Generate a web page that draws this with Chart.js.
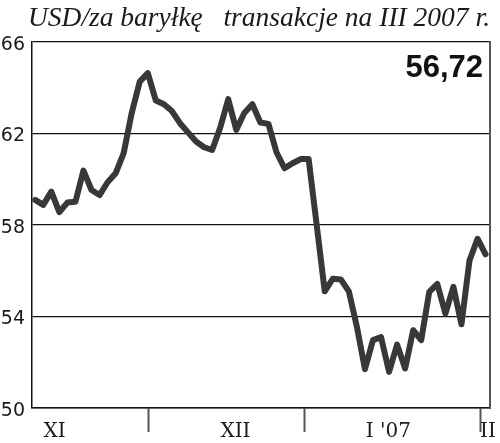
<!DOCTYPE html>
<html>
<head>
<meta charset="utf-8">
<script src="https://cdn.jsdelivr.net/npm/chart.js@4"></script>
<style>
  html, body { margin: 0; padding: 0; background: #fff; }
  #wrap { width: 500px; height: 443px; position: relative; }
</style>
</head>
<body>
<div id="wrap"><canvas id="c"></canvas></div>
<script>
// Daily oil price (USD per barrel), trading days Nov 2006 - early Feb 2007
const prices = [
  59.10, 58.88, 59.46, 58.56, 58.98, 59.02, 60.38, 59.53, 59.31, 59.87,
  60.26, 61.14, 62.90, 64.27, 64.64, 63.44, 63.28, 62.98, 62.45, 62.05,
  61.65, 61.40, 61.28, 62.25, 63.50, 62.16, 62.90, 63.28, 62.48, 62.42,
  61.18, 60.48, 60.70, 60.88, 60.88, 58.00, 55.10, 55.65, 55.62, 55.10,
  53.55, 51.70, 52.97, 53.10, 51.58, 52.77, 51.73, 53.40, 52.97, 55.08,
  55.42, 54.13, 55.30, 53.66, 56.45, 57.40, 56.72
];
// month boundaries (in trading-day index units) and month labels
const monthEdges = [14.05, 33.45, 55.35];
const monthLabelAt = [2.4, 24.9, 43.9, 56.3];
const monthLabels = ['XI', 'XII', "I '07", 'II'];
const yTicks = [50, 54, 58, 62, 66];
const titleText = 'USD/za baryłkę   transakcje na III 2007 r.';

const points = prices.map((v, i) => ({ x: i, y: v }));
const lastValue = prices[prices.length - 1].toFixed(2).replace('.', ',');

const lastValuePlugin = {
  id: 'lastValue',
  afterDraw(chart) {
    const { ctx, chartArea } = chart;
    ctx.save();
    ctx.font = 'bold 31px "Liberation Sans", Arial, sans-serif';
    ctx.fillStyle = '#111';
    ctx.textAlign = 'right';
    ctx.textBaseline = 'alphabetic';
    ctx.fillText(lastValue, chartArea.right - 7, chartArea.top + 35);
    ctx.restore();
  }
};

const isEdge = v => monthEdges.some(e => Math.abs(e - v) < 1e-6);

new Chart(document.getElementById('c'), {
  type: 'line',
  data: {
    datasets: [{
      data: points,
      borderColor: '#383838',
      borderWidth: 6,
      borderJoinStyle: 'round',
      borderCapStyle: 'round',
      pointRadius: 0,
      tension: 0,
      fill: false
    }]
  },
  options: {
    responsive: true,
    maintainAspectRatio: false,
    animation: false,
    layout: { padding: { left: 0, right: 10, top: 0, bottom: 0 } },
    plugins: {
      legend: { display: false },
      tooltip: { enabled: false },
      title: {
        display: true,
        align: 'end',
        text: titleText,
        color: '#1a1a1a',
        font: { family: '"Liberation Serif", "DejaVu Serif", serif', size: 27.5, style: 'italic', weight: 'normal' },
        padding: { top: 2, bottom: 7 }
      }
    },
    scales: {
      x: {
        type: 'linear',
        min: -0.4,
        max: 56.55,
        afterBuildTicks(scale) {
          const t = monthEdges.map(v => ({ value: v }))
            .concat(monthLabelAt.map(v => ({ value: v })));
          t.sort((a, b) => a.value - b.value);
          scale.ticks = t;
        },
        afterFit(scale) { scale.height = 35; },
        grid: {
          display: true,
          drawOnChartArea: false,
          drawTicks: true,
          tickLength: 24,
          tickWidth: 2,
          tickColor: ctx => (ctx.tick && isEdge(ctx.tick.value)) ? '#555' : 'rgba(0,0,0,0)'
        },
        border: { display: true, color: '#111', width: 1.5 },
        ticks: {
          autoSkip: false,
          maxRotation: 0,
          minRotation: 0,
          padding: -12,
          color: '#1a1a1a',
          font: { family: '"DejaVu Serif", serif', size: 20 },
          callback: (value) => {
            const i = monthLabelAt.findIndex(p => Math.abs(p - value) < 1e-6);
            return i >= 0 ? monthLabels[i] : '';
          }
        }
      },
      y: {
        min: 50,
        max: 66,
        afterBuildTicks(scale) { scale.ticks = yTicks.map(v => ({ value: v })); },
        afterFit(scale) { scale.width = 32; },
        grid: { color: '#111', lineWidth: 1.2, drawTicks: false },
        border: { display: true, color: '#111', width: 1.5 },
        ticks: {
          padding: 7,
          labelOffset: 3,
          color: '#1a1a1a',
          font: { family: '"DejaVu Sans", sans-serif', size: 19 }
        }
      },
      yRight: {
        position: 'right',
        min: 50,
        max: 66,
        afterFit(scale) { scale.width = 0; },
        grid: { display: false, drawTicks: false },
        border: { display: true, color: '#555', width: 2 },
        ticks: { display: false }
      }
    }
  },
  plugins: [lastValuePlugin]
});
</script>
</body>
</html>
